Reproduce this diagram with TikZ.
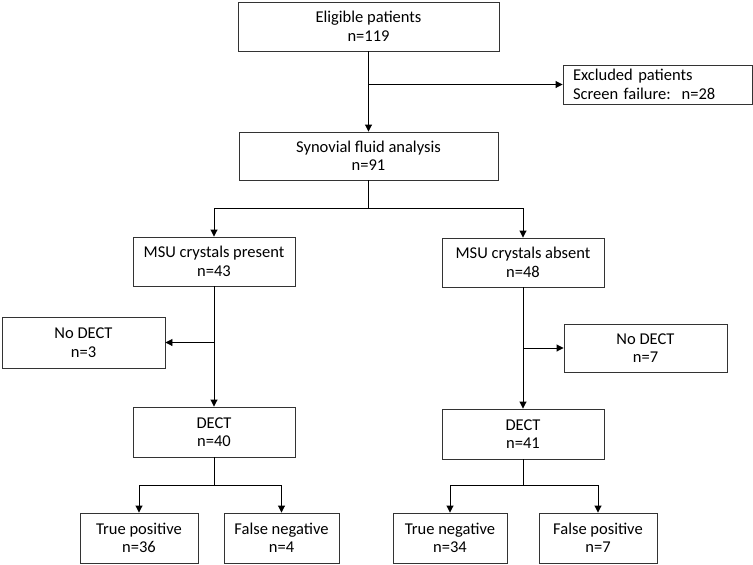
\documentclass[tikz,border=0pt]{standalone}
\usepackage{fontspec}
\setmainfont{Carlito}
\usetikzlibrary{arrows.meta}
\begin{document}
\begin{tikzpicture}[x=1pt,y=-1pt,
  box/.style={draw=black!80,line width=0.9pt,rectangle,align=center,inner sep=0pt,
    font=\fontsize{16.5}{18.5}\selectfont},
  conn/.style={draw=black,line width=0.9pt},
  arr/.style={conn,-{Triangle[length=7pt,width=7pt]}}]
\useasboundingbox (0,0) rectangle (753,565);
\node[box,minimum width=261pt,minimum height=49pt] (elig) at (368.5,26.5) {Eligible patients\\n=119};
\node[box,minimum width=189pt,minimum height=39pt,align=left,text width=169pt] (excl) at (657.5,84.5) {Excluded patients\\Screen failure:\ \ n=28};
\node[box,minimum width=259pt,minimum height=48pt] (syn) at (368.5,156) {Synovial fluid analysis\\n=91};
\node[box,minimum width=162pt,minimum height=49pt] (pres) at (214,261.5) {MSU crystals present\\n=43};
\node[box,minimum width=162pt,minimum height=49pt] (abs) at (523,262.5) {MSU crystals absent\\n=48};
\node[box,minimum width=163pt,minimum height=51pt] (nd1) at (83.5,342.5) {No DECT\\n=3};
\node[box,minimum width=163pt,minimum height=48pt] (nd2) at (645.5,348) {No DECT\\n=7};
\node[box,minimum width=162pt,minimum height=50pt] (dect1) at (214,432) {DECT\\n=40};
\node[box,minimum width=162pt,minimum height=50pt] (dect2) at (523,434) {DECT\\n=41};
\node[box,minimum width=118pt,minimum height=50pt] (tp) at (139,538) {True positive\\n=36};
\node[box,minimum width=115pt,minimum height=50pt] (fn) at (281.5,538) {False negative\\n=4};
\node[box,minimum width=114pt,minimum height=50pt] (tn) at (450,538) {True negative\\n=34};
\node[box,minimum width=118pt,minimum height=50pt] (fp) at (598,538) {False positive\\n=7};
% connectors
\coordinate (j1) at (elig.south |- excl.west);
\draw[arr] (elig.south) -- (syn.north);
\draw[arr] (j1) -- (excl.west);
\coordinate (j2) at (368.5,208);
\draw[conn] (syn.south) -- (j2);
\draw[arr] (j2) -| (pres.north);
\draw[arr] (j2) -| (abs.north);
\coordinate (j3) at (pres.south |- nd1.east);
\draw[arr] (pres.south) -- (dect1.north);
\draw[arr] (j3) -- (nd1.east);
\coordinate (j4) at (abs.south |- nd2.west);
\draw[arr] (abs.south) -- (dect2.north);
\draw[arr] (j4) -- (nd2.west);
\coordinate (j5) at (214,485);
\draw[conn] (dect1.south) -- (j5);
\draw[arr] (j5) -| (tp.north);
\draw[arr] (j5) -| (fn.north);
\coordinate (j6) at (523,485);
\draw[conn] (dect2.south) -- (j6);
\draw[arr] (j6) -| (tn.north);
\draw[arr] (j6) -| (fp.north);
\end{tikzpicture}
\end{document}
